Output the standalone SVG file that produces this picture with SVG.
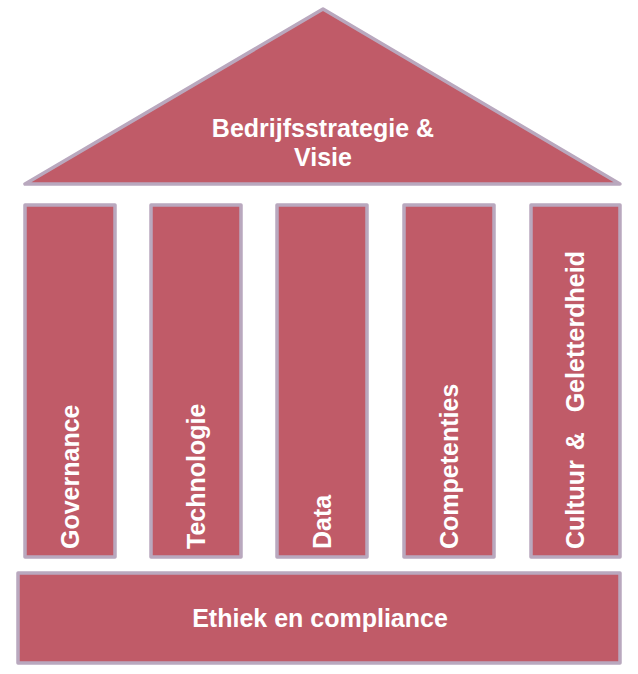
<svg xmlns="http://www.w3.org/2000/svg" width="638" height="674" viewBox="0 0 638 674">
<style>
.s{fill:#C05B68;stroke:#B9A8BE;stroke-width:3.5;stroke-linejoin:round}
.t{font-family:"Liberation Sans",Arial,sans-serif;font-weight:bold;font-size:25px;fill:#FFFFFF}
</style>
<rect width="638" height="674" fill="#FFFFFF"/>
<g id="roof">
<polygon class="s" points="323,9 25,184 620,184"/>
<text class="t" x="323" y="137" text-anchor="middle">Bedrijfsstrategie &amp;</text>
<text class="t" x="323" y="166" text-anchor="middle">Visie</text>
</g>
<g id="governance">
<rect class="s" x="25" y="205" width="90" height="352"/>
<text class="t" transform="translate(79,549) rotate(-90)">Governance</text>
</g>
<g id="technologie">
<rect class="s" x="151" y="205" width="90" height="352"/>
<text class="t" transform="translate(205,549) rotate(-90)">Technologie</text>
</g>
<g id="data">
<rect class="s" x="277" y="205" width="90" height="352"/>
<text class="t" transform="translate(331,549) rotate(-90)">Data</text>
</g>
<g id="competenties">
<rect class="s" x="404" y="205" width="90" height="352"/>
<text class="t" transform="translate(458,549) rotate(-90)">Competenties</text>
</g>
<g id="cultuur">
<rect class="s" x="531" y="205" width="89" height="352"/>
<text class="t" transform="translate(584,549) rotate(-90)" xml:space="preserve" word-spacing="3">Cultuur &amp;  Geletterdheid</text>
</g>
<g id="ethiek">
<rect class="s" x="18" y="573" width="602" height="90"/>
<text class="t" x="320" y="627" text-anchor="middle">Ethiek en compliance</text>
</g>
<g id="connectors"></g>
</svg>
